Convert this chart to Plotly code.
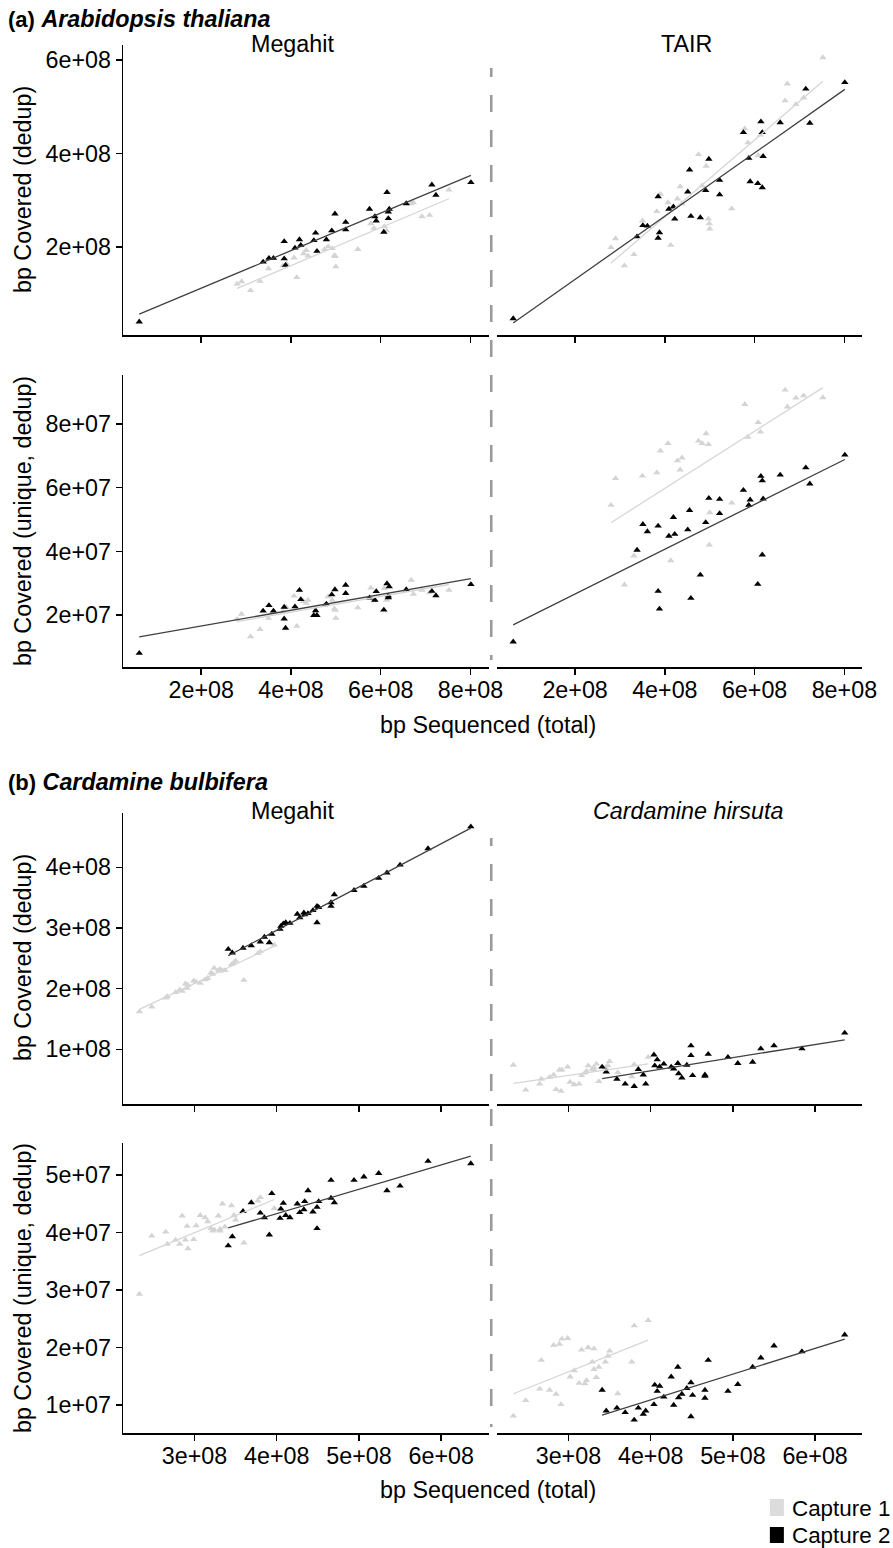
import numpy as np
import plotly.graph_objects as go

# ---------------- data (x in units of 1e8 bp; y units noted) ----------------
# (a) Arabidopsis thaliana
a_c1_x = [2.80, 2.90, 3.10, 3.31, 3.50, 3.82, 3.90, 4.07, 4.13, 4.28, 4.34, 4.38, 4.75, 4.83,
          4.92, 4.97, 4.99, 5.00, 5.49, 5.78, 5.85, 6.08, 6.13, 6.68, 6.73, 6.92, 7.09, 7.52]
a_c1_megahit_dedup = [1.21, 1.26, 1.07, 1.27, 1.54, 1.60, 1.64, 1.77, 1.35, 1.86, 1.93, 1.81, 1.95, 2.01,
                      1.97, 1.82, 1.80, 1.58, 1.95, 2.50, 2.40, 2.44, 2.35, 2.93, 2.95, 2.65, 2.68, 3.22]  # 1e8
a_c1_tair_dedup = [1.99, 2.18, 1.60, 1.84, 2.56, 2.76, 3.13, 2.95, 2.04, 3.03, 3.29, 2.93, 3.98, 3.31,
                   3.73, 2.60, 2.50, 2.39, 2.82, 4.53, 4.23, 3.96, 4.40, 5.13, 5.49, 5.05, 5.19, 6.05]  # 1e8
a_c1_megahit_unique = [1.87, 2.03, 1.32, 1.55, 1.90, 2.10, 2.24, 2.60, 1.65, 2.43, 2.37, 2.47, 2.30, 2.58,
                       2.47, 2.20, 2.15, 1.90, 2.23, 2.85, 2.45, 2.84, 2.47, 3.10, 2.66, 2.78, 2.70, 2.78]  # 1e7
a_c1_tair_unique = [5.45, 6.29, 2.95, 3.86, 6.37, 6.47, 7.16, 7.39, 3.71, 6.85, 6.56, 6.94, 7.47, 7.39,
                    7.70, 7.36, 4.20, 5.22, 5.52, 8.62, 7.59, 8.05, 7.75, 9.07, 8.54, 8.82, 8.89, 8.83]  # 1e7

a_c2_x = [0.62, 3.38, 3.51, 3.61, 3.85, 3.85, 3.88, 4.09, 4.19, 4.22, 4.51, 4.55, 4.58, 4.79, 4.91,
          4.98, 5.22, 5.22, 5.75, 5.87, 5.90, 6.07, 6.14, 6.17, 6.19, 6.17, 6.57, 7.14, 7.23, 8.01]
a_c2_megahit_dedup = [0.40, 1.68, 1.76, 1.76, 2.12, 1.75, 1.61, 1.98, 2.16, 2.04, 2.14, 2.30, 1.91, 2.16, 2.35,
                      2.71, 2.53, 2.37, 2.81, 2.65, 2.56, 2.32, 3.17, 2.75, 2.81, 2.61, 2.93, 3.33, 3.11, 3.38]
a_c2_tair_dedup = [0.47, 2.22, 2.46, 2.45, 3.08, 2.19, 2.31, 2.81, 2.86, 2.60, 3.18, 3.65, 2.66, 2.63, 3.21,
                   3.88, 3.43, 3.12, 4.45, 3.90, 3.40, 3.36, 4.68, 4.45, 3.94, 3.27, 4.66, 5.38, 4.65, 5.52]
a_c2_megahit_unique = [0.80, 2.13, 2.30, 2.13, 2.25, 1.88, 1.59, 2.26, 2.78, 2.49, 1.99, 2.14, 1.99, 2.35, 2.64,
                       2.80, 2.94, 2.68, 2.54, 2.47, 2.74, 2.16, 2.99, 2.55, 2.89, 2.60, 2.80, 2.75, 2.61, 2.96]
a_c2_tair_unique = [1.16, 4.04, 4.85, 4.62, 4.80, 2.75, 2.19, 4.48, 5.07, 4.54, 4.68, 5.29, 2.53, 3.26, 4.91,
                    5.67, 5.64, 5.19, 5.92, 5.45, 5.62, 2.97, 6.36, 6.22, 5.65, 3.89, 6.40, 6.63, 6.12, 7.03]

# (b) Cardamine bulbifera
b_c1_x = [2.33, 2.48, 2.65, 2.67, 2.77, 2.82, 2.85, 2.89, 2.91, 2.92, 2.99, 3.02, 3.07, 3.13, 3.16,
          3.20, 3.22, 3.24, 3.29, 3.31, 3.31, 3.34, 3.37, 3.45, 3.48, 3.50, 3.60, 3.77, 3.80, 3.97]
b_c1_megahit_dedup = [1.62, 1.70, 1.85, 1.87, 1.94, 1.98, 1.96, 2.08, 2.01, 2.06, 2.13, 2.11, 2.09, 2.15, 2.17,
                      2.26, 2.24, 2.34, 2.30, 2.32, 2.29, 2.30, 2.30, 2.40, 2.43, 2.46, 2.14, 2.58, 2.61, 2.72]
b_c1_hirsuta_dedup = [0.74, 0.33, 0.43, 0.51, 0.54, 0.58, 0.34, 0.66, 0.31, 0.66, 0.71, 0.46, 0.42, 0.43, 0.57,
                      0.61, 0.64, 0.73, 0.68, 0.66, 0.70, 0.76, 0.47, 0.70, 0.73, 0.80, 0.62, 0.55, 0.75, 0.87]
b_c1_megahit_unique = [2.93, 3.94, 4.01, 3.80, 3.87, 3.80, 4.29, 3.87, 4.11, 3.72, 3.88, 4.12, 4.30, 4.26, 4.19,
                       4.07, 4.03, 4.05, 4.29, 4.06, 4.03, 4.50, 4.10, 4.47, 4.30, 4.22, 3.82, 4.55, 4.61, 4.42]
b_c1_hirsuta_unique = [0.81, 1.08, 1.28, 1.78, 1.26, 2.04, 1.19, 2.06, 1.01, 2.15, 2.16, 1.49, 1.60, 1.38, 1.96,
                       1.37, 1.43, 2.00, 1.75, 1.98, 1.62, 1.48, 1.66, 1.75, 1.85, 1.94, 1.20, 1.75, 2.38, 2.47]

b_c2_x = [3.41, 3.46, 3.59, 3.69, 3.80, 3.85, 3.91, 3.94, 4.04, 4.05, 4.08, 4.11, 4.16, 4.25, 4.28, 4.33,
          4.34, 4.38, 4.44, 4.49, 4.49, 4.51, 4.66, 4.66, 4.70, 4.94, 5.06, 5.24, 5.34, 5.50, 5.84, 6.36]
b_c2_megahit_dedup = [2.65, 2.59, 2.67, 2.71, 2.77, 2.85, 2.76, 2.90, 2.98, 3.03, 3.07, 3.09, 3.08, 3.23, 3.17, 3.25,
                      3.22, 3.24, 3.29, 3.36, 3.09, 3.34, 3.42, 3.36, 3.55, 3.62, 3.69, 3.82, 3.91, 4.04, 4.31, 4.67]
b_c2_hirsuta_dedup = [0.71, 0.63, 0.51, 0.43, 0.39, 0.67, 0.58, 0.43, 0.91, 0.73, 0.83, 0.71, 0.76, 0.71, 0.68, 0.77,
                      0.60, 0.53, 0.74, 1.06, 0.90, 0.57, 0.56, 0.58, 0.92, 0.87, 0.77, 0.79, 1.01, 1.06, 1.01, 1.27]
b_c2_megahit_unique = [3.77, 3.93, 4.37, 4.52, 4.34, 4.26, 3.96, 4.68, 4.25, 4.41, 4.51, 4.30, 4.26, 4.50, 4.35, 4.40,
                       4.54, 4.73, 4.36, 4.44, 4.07, 4.54, 4.91, 4.60, 4.52, 4.91, 4.97, 5.03, 4.73, 4.81, 5.24, 5.20]
b_c2_hirsuta_unique = [1.26, 0.90, 0.95, 0.87, 0.74, 0.95, 0.84, 0.90, 1.01, 1.35, 1.24, 1.33, 1.14, 1.49, 1.00, 1.66,
                       1.13, 1.19, 1.29, 1.39, 0.80, 1.17, 1.26, 1.12, 1.78, 1.24, 1.36, 1.66, 1.82, 2.03, 1.93, 2.22]

# tick labels
a_x_ticks = [2e8, 4e8, 6e8, 8e8]
a_x_labels = ["2e+08", "4e+08", "6e+08", "8e+08"]
b_x_ticks = [3e8, 4e8, 5e8, 6e8]
b_x_labels = ["3e+08", "4e+08", "5e+08", "6e+08"]
a_top_y_ticks = [2e8, 4e8, 6e8]
a_top_y_labels = ["2e+08", "4e+08", "6e+08"]
a_bot_y_ticks = [2e7, 4e7, 6e7, 8e7]
a_bot_y_labels = ["2e+07", "4e+07", "6e+07", "8e+07"]
b_top_y_ticks = [1e8, 2e8, 3e8, 4e8]
b_top_y_labels = ["1e+08", "2e+08", "3e+08", "4e+08"]
b_bot_y_ticks = [1e7, 2e7, 3e7, 4e7, 5e7]
b_bot_y_labels = ["1e+07", "2e+07", "3e+07", "4e+07", "5e+07"]

series_names = ["Capture 1", "Capture 2"]

# ---------------- styling / layout ----------------
W, H = 893, 1548          # target picture size
FIG_W = 908               # plotly canvas width (picture is captured then fitted to W)
FONT = "Liberation Sans, Arial, Helvetica, sans-serif"
C1_PT, C2_PT = "#d4d4d4", "#000000"
C1_LN, C2_LN = "#d6d6d6", "#404040"
FS = 23.3

def fx(p):
    return p / W

def fy(p):
    return 1 - p / H

COL_PX = [(123, 488), (496.5, 861.5)]
ROW_PX = [(45, 335), (375, 667), (813, 1104), (1143, 1433)]
X_RANGE = {"a": [0.261e8, 8.403e8], "b": [2.132e8, 6.576e8]}
Y_RANGE = [[0.118e8, 6.32e8], [0.367e7, 9.54e7], [0.099e8, 4.895e8], [0.513e7, 5.557e7]]
Y_TICKS = [(a_top_y_ticks, a_top_y_labels), (a_bot_y_ticks, a_bot_y_labels),
           (b_top_y_ticks, b_top_y_labels), (b_bot_y_ticks, b_bot_y_labels)]

# panels: (row, col, species, c1x, c1y, c2x, c2y, yscale)
panels = [
    (0, 0, "a", a_c1_x, a_c1_megahit_dedup, a_c2_x, a_c2_megahit_dedup, 1e8),
    (0, 1, "a", a_c1_x, a_c1_tair_dedup, a_c2_x, a_c2_tair_dedup, 1e8),
    (1, 0, "a", a_c1_x, a_c1_megahit_unique, a_c2_x, a_c2_megahit_unique, 1e7),
    (1, 1, "a", a_c1_x, a_c1_tair_unique, a_c2_x, a_c2_tair_unique, 1e7),
    (2, 0, "b", b_c1_x, b_c1_megahit_dedup, b_c2_x, b_c2_megahit_dedup, 1e8),
    (2, 1, "b", b_c1_x, b_c1_hirsuta_dedup, b_c2_x, b_c2_hirsuta_dedup, 1e8),
    (3, 0, "b", b_c1_x, b_c1_megahit_unique, b_c2_x, b_c2_megahit_unique, 1e7),
    (3, 1, "b", b_c1_x, b_c1_hirsuta_unique, b_c2_x, b_c2_hirsuta_unique, 1e7),
]

fig = go.Figure()
layout = {}

for i, (row, col, sp, c1x, c1y, c2x, c2y, ys) in enumerate(panels):
    n = i + 1
    xa = "x" if n == 1 else f"x{n}"
    ya = "y" if n == 1 else f"y{n}"
    X1 = np.array(c1x) * 1e8
    Y1 = np.array(c1y) * ys
    X2 = np.array(c2x) * 1e8
    Y2 = np.array(c2y) * ys
    for X, Y, pc, name in [(X1, Y1, C1_PT, series_names[0]), (X2, Y2, C2_PT, series_names[1])]:
        fig.add_trace(go.Scatter(x=X, y=Y, mode="markers", xaxis=xa, yaxis=ya, name=name,
                                 showlegend=False, cliponaxis=False,
                                 marker=dict(symbol="triangle-up", size=6.5, color=pc,
                                             line=dict(width=0))))
    for X, Y, lc, name in [(X1, Y1, C1_LN, series_names[0]), (X2, Y2, C2_LN, series_names[1])]:
        k, b0 = np.polyfit(X, Y, 1)
        xs = np.array([X.min(), X.max()])
        fig.add_trace(go.Scatter(x=xs, y=k * xs + b0, mode="lines", xaxis=xa, yaxis=ya,
                                 name=name, showlegend=False,
                                 line=dict(color=lc, width=1.3)))

    xt = (a_x_ticks, a_x_labels) if sp == "a" else (b_x_ticks, b_x_labels)
    show_xlab = row in (1, 3)
    cx0, cx1 = COL_PX[col]
    ry0, ry1 = ROW_PX[row]
    layout["xaxis" if n == 1 else f"xaxis{n}"] = dict(
        domain=[fx(cx0), fx(cx1)], anchor=ya, range=X_RANGE[sp],
        tickvals=xt[0], ticktext=xt[1], showticklabels=show_xlab,
        ticks="outside", ticklen=6, tickwidth=1.5, tickcolor="black", ticklabelstandoff=-4,
        showline=True, linewidth=1.5, linecolor="black", showgrid=False, zeroline=False,
        tickfont=dict(family=FONT, size=FS, color="black"), fixedrange=True)
    ycfg = dict(domain=[fy(ry1), fy(ry0)], anchor=xa, range=Y_RANGE[row],
                showgrid=False, zeroline=False, fixedrange=True)
    if col == 0:
        ycfg.update(tickvals=Y_TICKS[row][0], ticktext=Y_TICKS[row][1], ticks="outside",
                    ticklen=6, tickwidth=1.5, tickcolor="black", showline=True,
                    linewidth=1.5, linecolor="black",
                    tickfont=dict(family=FONT, size=FS, color="black"))
    else:
        ycfg.update(showticklabels=False, ticks="", showline=False)
    layout["yaxis" if n == 1 else f"yaxis{n}"] = ycfg

annotations = []

def ann(text, x, y, size=FS, angle=0, xanchor="center"):
    annotations.append(dict(text=text, x=fx(x), y=fy(y), xref="paper", yref="paper",
                            showarrow=False, xanchor=xanchor, yanchor="middle",
                            textangle=angle, font=dict(family=FONT, size=size, color="black")))

# panel group titles
ann("<b><span style='font-size:22px'>(a)</span></b> <b><i>Arabidopsis thaliana</i></b>", 6, 19, xanchor="left")
ann("<b><span style='font-size:22px'>(b)</span></b> <b><i>Cardamine bulbifera</i></b>", 6, 782, xanchor="left")
# column strip titles
ann("Megahit", 292.5, 44)
ann("TAIR", 686, 44)
ann("Megahit", 292.5, 811)
ann("<i>Cardamine hirsuta</i>", 687, 811)
# axis titles
ann("bp Covered (dedup)", 23, 190, angle=-90)
ann("bp Covered (unique, dedup)", 23, 521, angle=-90)
ann("bp Covered (dedup)", 23, 958, angle=-90)
ann("bp Covered (unique, dedup)", 23, 1288, angle=-90)
ann("bp Sequenced (total)", 487, 725)
ann("bp Sequenced (total)", 487, 1490)
# legend
ann(series_names[0], 789, 1508, size=22.4, xanchor="left")
ann(series_names[1], 789, 1535, size=22.4, xanchor="left")

shapes = [
    dict(type="rect", xref="paper", yref="paper", x0=fx(769), x1=fx(783), y0=fy(1516), y1=fy(1499),
         fillcolor="#dcdcdc", line=dict(width=0)),
    dict(type="rect", xref="paper", yref="paper", x0=fx(769), x1=fx(783), y0=fy(1543), y1=fy(1527),
         fillcolor="#000000", line=dict(width=0)),
]
dash_a = "9px,18px," + ",".join(["17px,18px"] * 20)
dash_b = "8px,18px," + ",".join(["17px,18px"] * 20)
shapes.append(dict(type="line", xref="paper", yref="paper", x0=fx(490.7), x1=fx(490.7),
                   y0=fy(68), y1=fy(660), line=dict(color="#9a9a9a", width=2.6, dash=dash_a)))
shapes.append(dict(type="line", xref="paper", yref="paper", x0=fx(490.7), x1=fx(490.7),
                   y0=fy(838), y1=fy(1427), line=dict(color="#9a9a9a", width=2.6, dash=dash_b)))

fig.update_layout(
    width=FIG_W, height=H, autosize=False, margin=dict(l=0, r=0, t=0, b=0, pad=0),
    paper_bgcolor="white", plot_bgcolor="white", showlegend=False,
    font=dict(family=FONT, size=FS, color="black"),
    annotations=annotations, shapes=shapes, **layout)

post_js = (
    "document.documentElement.style.margin='0';"
    "document.body.style.margin='0';document.body.style.padding='0';"
)

fig.write_html("out.html",
               config={"responsive": False, "displayModeBar": False, "staticPlot": True},
               post_script=post_js)
